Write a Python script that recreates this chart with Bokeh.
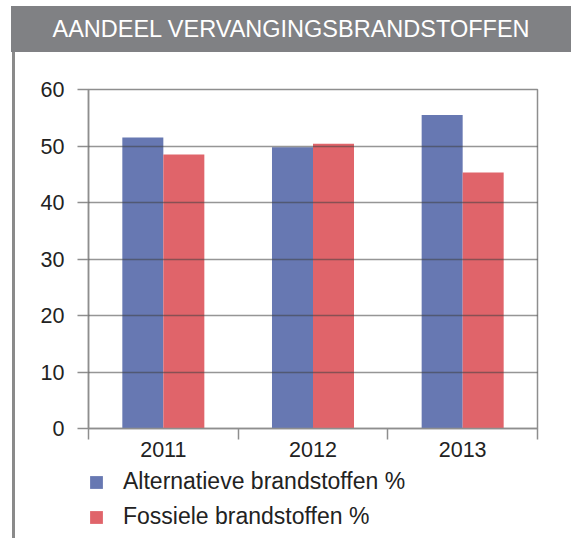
from bokeh.plotting import figure
from bokeh.models import (ColumnDataSource, FixedTicker, Legend, LegendItem, Div, Range1d)
from bokeh.layouts import column, row
from bokeh.transform import dodge
from bokeh.embed import file_html
from bokeh.resources import INLINE

years = ["2011", "2012", "2013"]
alternatief = [51.5, 49.8, 55.5]
fossiel = [48.5, 50.4, 45.3]
series_names = ["Alternatieve brandstoffen %", "Fossiele brandstoffen %"]
y_ticks = [0, 10, 20, 30, 40, 50, 60]
title_text = "AANDEEL VERVANGINGSBRANDSTOFFEN"

FONT = "Liberation Sans"
BLUE = "#6778B2"
RED = "#E0646A"
GRID = "#8e8e8e"

pos = [i + 0.5 for i in range(len(years))]
src = ColumnDataSource(dict(x=pos, alt=alternatief, fos=fossiel, year=years))

p = figure(width=556, height=416, output_backend="svg", toolbar_location=None,
           x_range=Range1d(0, len(years)), y_range=Range1d(0, 60),
           min_border_left=73, min_border_right=34, min_border_top=37, min_border_bottom=40)
p.margin = 0

bw = 0.274
r1 = p.vbar(x=dodge("x", -bw / 2, range=p.x_range), top="alt", width=bw, source=src,
            fill_color=BLUE, line_color=None)
r2 = p.vbar(x=dodge("x", bw / 2, range=p.x_range), top="fos", width=bw, source=src,
            fill_color=RED, line_color=None)

# axes
p.xaxis.ticker = FixedTicker(ticks=pos, minor_ticks=list(range(len(years) + 1)))
p.xaxis.major_label_overrides = {pos[i]: years[i] for i in range(len(years))}
p.xaxis.major_tick_out = 0
p.xaxis.major_tick_in = 0
p.xaxis.minor_tick_out = 11
p.xaxis.minor_tick_in = 0
p.xaxis.minor_tick_line_color = GRID
p.xaxis.minor_tick_line_width = 1.5
p.xaxis.axis_line_color = GRID
p.xaxis.axis_line_width = 1.5
p.xaxis.major_label_standoff = 2

p.yaxis.ticker = FixedTicker(ticks=y_ticks, minor_ticks=[])
p.yaxis.major_tick_out = 11
p.yaxis.major_tick_in = 0
p.yaxis.major_tick_line_color = GRID
p.yaxis.major_tick_line_width = 1.5
p.yaxis.axis_line_color = GRID
p.yaxis.axis_line_width = 1.5
p.yaxis.major_label_standoff = 13

for ax in (p.xaxis, p.yaxis):
    ax.major_label_text_font = FONT
    ax.major_label_text_font_size = "21.5px"
    ax.major_label_text_color = "#222222"

p.xgrid.visible = False
p.ygrid.ticker = FixedTicker(ticks=y_ticks)
p.ygrid.grid_line_color = "#404040"
p.ygrid.grid_line_alpha = 0.55
p.ygrid.grid_line_width = 1.5
p.ygrid.level = "overlay"

p.outline_line_color = GRID
p.outline_line_width = 1.5
p.background_fill_color = "white"
p.border_fill_color = "white"

# legend in its own small figure below the chart (frames are aligned by the column)
lf = figure(width=556, height=70, output_backend="svg", toolbar_location=None,
            x_range=Range1d(1000, 1003), y_range=Range1d(1000, 1001),
            x_axis_type=None, y_axis_type=None,
            min_border_left=0, min_border_right=0, min_border_top=0, min_border_bottom=0)
lf.margin = 0
lf.outline_line_color = None
lf.xgrid.visible = False
lf.ygrid.visible = False
# proxy renderers (same data, far outside this figure's visible range) for the legend swatches
l1 = lf.vbar(x="x", top="alt", width=bw, source=src, fill_color=BLUE, line_color=None)
l2 = lf.vbar(x="x", top="fos", width=bw, source=src, fill_color=RED, line_color=None)

legend = Legend(items=[LegendItem(label=series_names[0], renderers=[l1]),
                       LegendItem(label=series_names[1], renderers=[l2])],
                location=(0, 8), orientation="vertical",
                glyph_width=16, glyph_height=16, label_height=16, spacing=8,
                label_standoff=19, padding=0, margin=0,
                border_line_color=None, background_fill_alpha=0,
                label_text_font=FONT, label_text_font_size="23px",
                label_text_color="#222222")
lf.add_layout(legend, "center")

title_div = Div(text=f'<div style="font-family:\'{FONT}\';font-size:23.5px;color:white;'
                     f'text-align:center;line-height:46px;width:560px;height:46px;">{title_text}</div>',
                width=560, height=46, margin=(6, 0, 0, 11),
                styles={"background-color": "#808184"})
line_div = Div(text="", width=3, height=486, margin=0, styles={"background-color": "#8a8a8a"})

layout = column(title_div,
                row(line_div, column(p, lf, margin=0, spacing=0), margin=(0, 0, 0, 12), spacing=0),
                margin=0, spacing=0)

open("out.html", "w").write(file_html(layout, INLINE))
